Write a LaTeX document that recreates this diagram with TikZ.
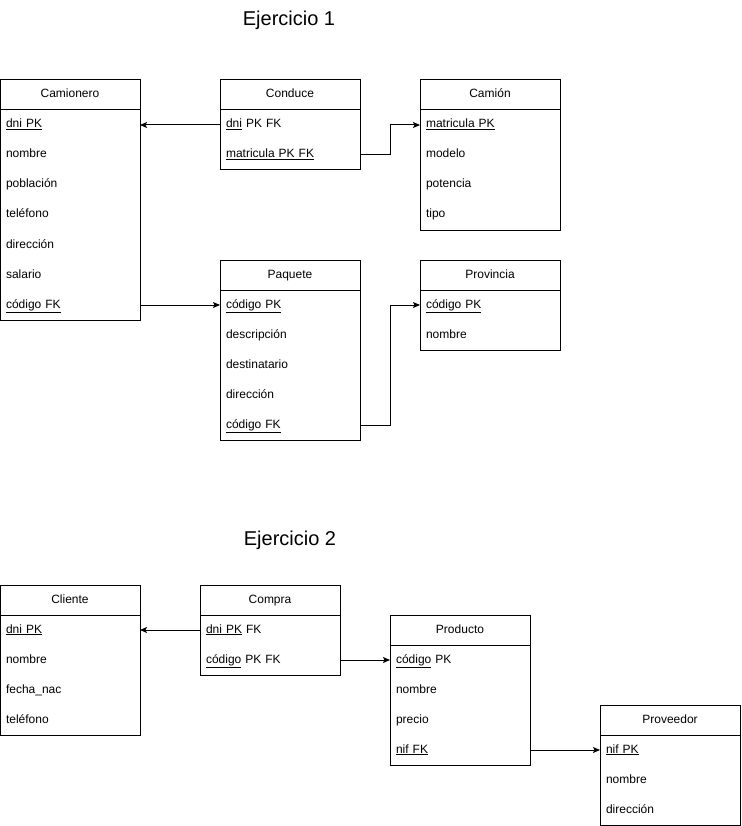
\documentclass[tikz,border=0pt]{standalone}
\usepackage{fontspec}
\setmainfont{Liberation Sans}
\usetikzlibrary{positioning,arrows.meta}

\tikzset{
  hdr/.style = {draw, line width=1pt, minimum width=140pt, minimum height=30pt, inner sep=0pt, outer sep=0pt, text height=9pt, text depth=3pt},
  fld/.style = {minimum height=30pt, text width=128pt, inner xsep=6pt, inner ysep=0pt, outer sep=0pt, align=left, text height=9pt, text depth=3pt},
  fk/.style = {line width=1pt, -{Stealth[length=7pt,width=6pt,inset=1.5pt]}},
  ttl/.style = {font=\fontsize{20pt}{23pt}\selectfont},
}

\begin{document}
\begin{tikzpicture}[x=1pt, y=-1pt, every node/.style={font=\fontsize{12pt}{14pt}\selectfont}]
\useasboundingbox (0,0) rectangle (741,826);

\node[ttl] (ej1) at (289,20) {Ejercicio 1};
\node[ttl] (ej2) at (290,540) {Ejercicio 2};

% Camionero
\node[hdr] (cam) at (70,95) {Camionero};
\node[fld, below=0pt of cam] (cam1) {\underline{dni PK}};
\node[fld, below=0pt of cam1] (cam2) {nombre};
\node[fld, below=0pt of cam2] (cam3) {población};
\node[fld, below=0pt of cam3] (cam4) {teléfono};
\node[fld, below=0pt of cam4] (cam5) {dirección};
\node[fld, below=0pt of cam5] (cam6) {salario};
\node[fld, below=0pt of cam6] (cam7) {\underline{código FK}};
\draw[line width=1pt] (cam.south west) rectangle (cam7.south east);

% Conduce
\node[hdr] (con) at (290,95) {Conduce};
\node[fld, below=0pt of con] (con1) {\underline{dni} PK FK};
\node[fld, below=0pt of con1] (con2) {\underline{matricula PK FK}};
\draw[line width=1pt] (con.south west) rectangle (con2.south east);

% Camion
\node[hdr] (cmn) at (490,95) {Camión};
\node[fld, below=0pt of cmn] (cmn1) {\underline{matricula PK}};
\node[fld, below=0pt of cmn1] (cmn2) {modelo};
\node[fld, below=0pt of cmn2] (cmn3) {potencia};
\node[fld, below=0pt of cmn3] (cmn4) {tipo};
\draw[line width=1pt] (cmn.south west) rectangle (cmn4.south east);

% Paquete
\node[hdr] (paq) at (290,275) {Paquete};
\node[fld, below=0pt of paq] (paq1) {\underline{código PK}};
\node[fld, below=0pt of paq1] (paq2) {descripción};
\node[fld, below=0pt of paq2] (paq3) {destinatario};
\node[fld, below=0pt of paq3] (paq4) {dirección};
\node[fld, below=0pt of paq4] (paq5) {\underline{código FK}};
\draw[line width=1pt] (paq.south west) rectangle (paq5.south east);

% Provincia
\node[hdr] (prv) at (490,275) {Provincia};
\node[fld, below=0pt of prv] (prv1) {\underline{código PK}};
\node[fld, below=0pt of prv1] (prv2) {nombre};
\draw[line width=1pt] (prv.south west) rectangle (prv2.south east);

\draw[fk] (con1.west) -- (cam1.east);
\draw[fk] (con2.east) -- ++(30,0) |- (cmn1.west);
\draw[fk] (cam7.east) -- (paq1.west);
\draw[fk] (paq5.east) -- ++(30,0) |- (prv1.west);

% Cliente
\node[hdr] (cli) at (70,600) {Cliente};
\node[fld, below=0pt of cli] (cli1) {\underline{dni PK}};
\node[fld, below=0pt of cli1] (cli2) {nombre};
\node[fld, below=0pt of cli2] (cli3) {fecha\_nac};
\node[fld, below=0pt of cli3] (cli4) {teléfono};
\draw[line width=1pt] (cli.south west) rectangle (cli4.south east);

% Compra
\node[hdr] (com) at (270,600) {Compra};
\node[fld, below=0pt of com] (com1) {\underline{dni PK} FK};
\node[fld, below=0pt of com1] (com2) {\underline{código} PK FK};
\draw[line width=1pt] (com.south west) rectangle (com2.south east);

% Producto
\node[hdr] (pro) at (460,630) {Producto};
\node[fld, below=0pt of pro] (pro1) {\underline{código} PK};
\node[fld, below=0pt of pro1] (pro2) {nombre};
\node[fld, below=0pt of pro2] (pro3) {precio};
\node[fld, below=0pt of pro3] (pro4) {\underline{nif FK}};
\draw[line width=1pt] (pro.south west) rectangle (pro4.south east);

% Proveedor
\node[hdr] (pvd) at (670,720) {Proveedor};
\node[fld, below=0pt of pvd] (pvd1) {\underline{nif PK}};
\node[fld, below=0pt of pvd1] (pvd2) {nombre};
\node[fld, below=0pt of pvd2] (pvd3) {dirección};
\draw[line width=1pt] (pvd.south west) rectangle (pvd3.south east);

\draw[fk] (com1.west) -- (cli1.east);
\draw[fk] (com2.east) -- (pro1.west);
\draw[fk] (pro4.east) -- (pvd1.west);
\end{tikzpicture}
\end{document}
